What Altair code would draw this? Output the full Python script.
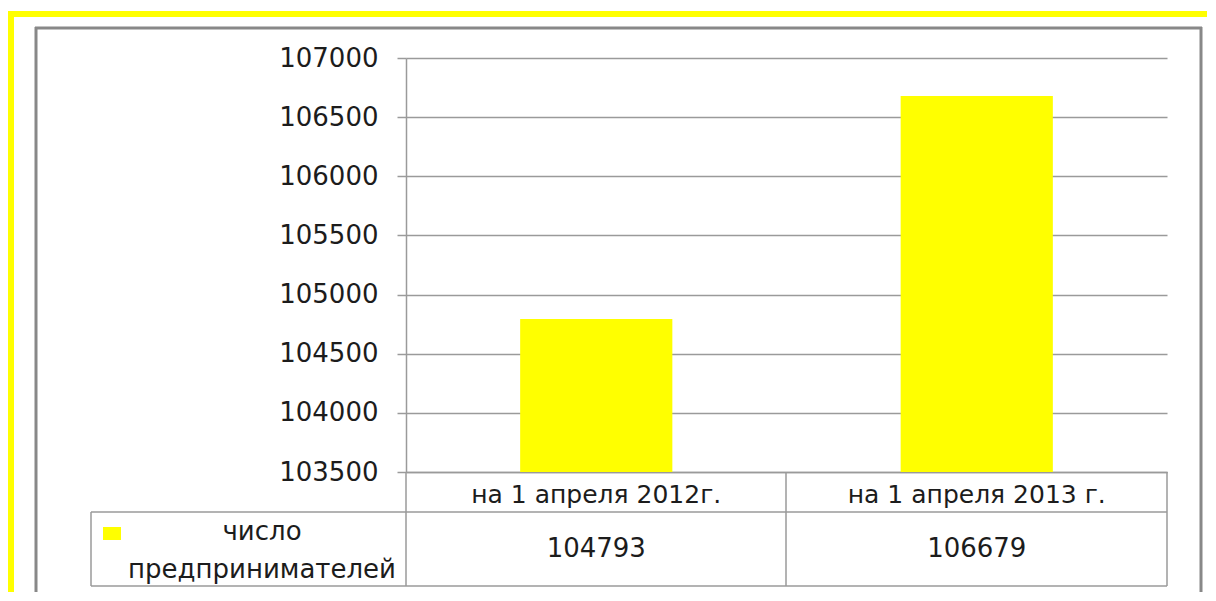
import altair as alt
import pandas as pd

categories = ["на 1 апреля 2012г.", "на 1 апреля 2013 г."]
values = [104793, 106679]
series_name = ["число", "предпринимателей"]
y_ticks = [103500, 104000, 104500, 105000, 105500, 106000, 106500, 107000]

df = pd.DataFrame({"cat": categories, "val": values})
dummy = pd.DataFrame({"a": [0]})

FONT = "DejaVu Sans"
YEL = "#FFFF00"
GRID = "#9a9a9a"
TXT = "#1c1c1c"

x_enc = alt.X("cat:N", sort=None,
              scale=alt.Scale(paddingInner=0, paddingOuter=0),
              axis=alt.Axis(title=None, labelAngle=0, labelFont=FONT, labelFontSize=25,
                            labelColor=TXT, ticks=False, labelPadding=10, labelLimit=0,
                            domainColor=GRID, domainWidth=1.5, grid=False))
y_scale = alt.Scale(domain=[103500, 107000], zero=False, nice=False)

bars = alt.Chart(df).mark_bar(color=YEL, width=alt.RelativeBandSize(0.4)).encode(
    x=x_enc,
    y=alt.Y("val:Q", scale=y_scale,
            axis=alt.Axis(title=None, values=y_ticks, format="d", labelFont=FONT,
                          labelFontSize=26, labelColor=TXT, tickSize=9, tickColor=GRID,
                          tickWidth=1.5, labelPadding=19, domainColor=GRID, domainWidth=1.5,
                          gridColor=GRID, gridWidth=1.5)),
    y2=alt.datum(103500),
)

vals = alt.Chart(df).mark_text(font=FONT, fontSize=26, color=TXT, baseline="middle").encode(
    x=alt.X("cat:N", sort=None), y=alt.value(491), text=alt.Text("val:Q", format="d"))


def line(x1, y1, x2, y2, color, w):
    return alt.Chart(dummy).mark_rule(color=color, strokeWidth=w).encode(
        x=alt.value(x1), x2=alt.value(x2), y=alt.value(y1), y2=alt.value(y2))


deco = [
    line(-398, -44, 812, -44, YEL, 6),
    line(-395, -47, -395, 545, YEL, 6),
    line(-371, -30, 796, -30, "#888888", 3),
    line(-370, -31, -370, 535, "#888888", 3),
    line(795, -31, 795, 535, "#888888", 3),
    line(-315, 454, 761, 454, GRID, 1.5),
    line(-315, 528, 761, 528, GRID, 1.5),
    line(-315, 454, -315, 528, GRID, 1.5),
    line(0, 414, 0, 528, GRID, 1.5),
    line(380, 414, 380, 528, GRID, 1.5),
    line(761, 414, 761, 528, GRID, 1.5),
]

key = alt.Chart(dummy).mark_rect(color=YEL).encode(
    x=alt.value(-303), x2=alt.value(-285), y=alt.value(469), y2=alt.value(482))

legend_txt = [
    alt.Chart(pd.DataFrame({"t": [series_name[0]]})).mark_text(
        font=FONT, fontSize=26, color=TXT, baseline="middle", align="center"
    ).encode(x=alt.value(-144), y=alt.value(474), text="t:N"),
    alt.Chart(pd.DataFrame({"t": [series_name[1]]})).mark_text(
        font=FONT, fontSize=26, color=TXT, baseline="middle", align="center"
    ).encode(x=alt.value(-144), y=alt.value(512), text="t:N"),
]

chart = alt.layer(bars, vals, *deco, key, *legend_txt).properties(
    width=761, height=414, autosize="none",
    padding={"left": 398, "top": 50, "right": 40, "bottom": 120},
).configure(background="white", view=alt.ViewConfig(stroke=None))

chart.save("out.html", embed_options={"renderer": "svg", "actions": False})
